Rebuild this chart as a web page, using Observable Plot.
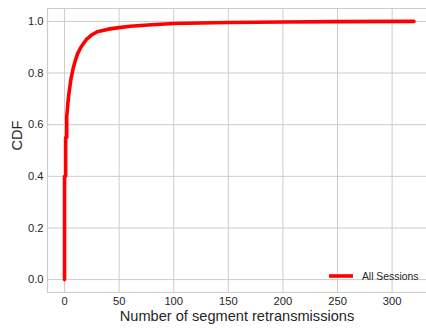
<!DOCTYPE html>
<html><head><meta charset="utf-8">
<script src="https://cdn.jsdelivr.net/npm/d3@7"></script>
<script src="https://cdn.jsdelivr.net/npm/@observablehq/plot@0.6"></script>
<style>
body{margin:0;background:#fff}
svg{font-family:"Liberation Sans",Arial,sans-serif}
</style>
</head><body><div id="chart"></div>
<script>
// Data
const retransmissions = [0, 0, 1, 1, 2, 2, 3, 4, 5, 6, 7, 8, 10, 12, 15, 20, 25, 30, 40, 50, 60, 80, 100, 150, 200, 250, 320];
const cdfValues = [0, 0.40, 0.40, 0.55, 0.55, 0.63, 0.68, 0.72, 0.75, 0.78, 0.80, 0.82, 0.85, 0.875, 0.90, 0.93, 0.948, 0.96, 0.97, 0.976, 0.981, 0.987, 0.992, 0.996, 0.998, 0.999, 1.0];
const xTicks = [0, 50, 100, 150, 200, 250, 300];
const yTicks = [0, 0.2, 0.4, 0.6, 0.8, 1.0];
const seriesName = "All Sessions";
const xLabel = "Number of segment retransmissions";
const yLabel = "CDF";

const data = retransmissions.map((x, i) => ({x, y: cdfValues[i]}));
const xDomain = [-15.6, 331.5];
const yDomain = [-0.05, 1.05];
const gridColor = "#cccccc";

const chart = Plot.plot({
  width: 426, height: 328,
  marginLeft: 47, marginRight: 0, marginTop: 8, marginBottom: 36,
  style: {fontFamily: "Liberation Sans, Arial, sans-serif", fontSize: "11.2px", color: "#262626", background: "#fff"},
  x: {domain: xDomain, ticks: xTicks, tickSize: 0, tickPadding: 5, tickFormat: d => String(d), label: null},
  y: {domain: yDomain, ticks: yTicks, tickSize: 0, tickPadding: 4, tickFormat: d3.format(".1f"), label: null},
  marks: [
    Plot.gridX(xTicks, {stroke: gridColor, strokeOpacity: 1, strokeWidth: 1}),
    Plot.gridY(yTicks, {stroke: gridColor, strokeOpacity: 1, strokeWidth: 1}),
    Plot.ruleX([xDomain[0]], {stroke: gridColor, strokeWidth: 1.2}),
    Plot.ruleY(yDomain, {stroke: gridColor, strokeWidth: 1.2}),
    Plot.line(data, {x: "x", y: "y", stroke: "red", strokeWidth: 3.6, curve: "linear", strokeLinejoin: "round"}),
    Plot.text([xLabel], {frameAnchor: "bottom", dy: 28, lineAnchor: "bottom", fontSize: 14.6, fill: "#262626"}),
    Plot.text([yLabel], {frameAnchor: "left", dx: -30, rotate: -90, fontSize: 14.6, fill: "#262626"}),
    Plot.text([seriesName], {frameAnchor: "bottom-right", dx: -8, dy: -16, textAnchor: "end", lineAnchor: "middle", fontSize: 10.4, fill: "#262626"})
  ]
});
// legend swatch
const svg = d3.select(chart);
svg.append("line")
  .attr("x1", 329).attr("x2", 353).attr("y1", 276).attr("y2", 276)
  .attr("stroke", "red").attr("stroke-width", 3.6);
document.getElementById("chart").appendChild(chart);
</script>
</body></html>
